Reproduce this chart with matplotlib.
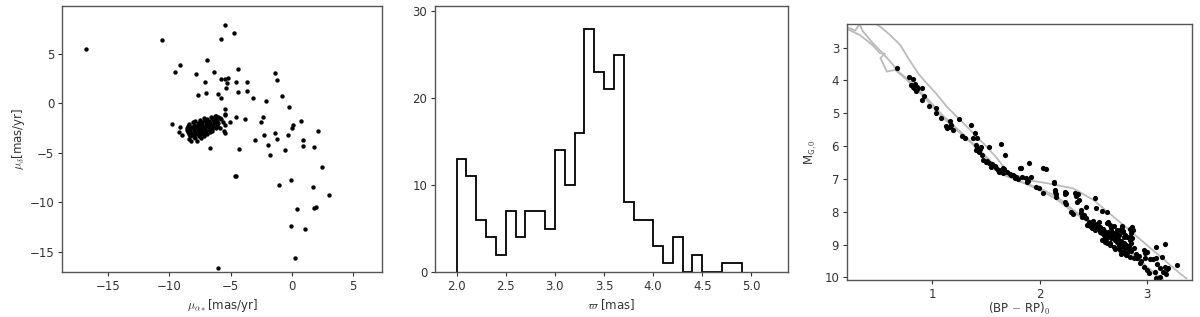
import matplotlib
matplotlib.use("Agg")
import matplotlib.pyplot as plt
import numpy as np

plt.rcParams['font.family'] = ['DejaVu Sans']
plt.rcParams['mathtext.fontset'] = 'cm'

# proper motions (mu_alpha*, mu_delta) in mas/yr
pm_outer = np.array([
    (-16.8, 5.5), (-10.6, 6.4), (-5.5, 7.95), (-4.75, 7.15), (-5.75, 6.55), (-6.95, 4.4),
    (-9.15, 3.85), (-9.5, 3.2), (-7.8, 2.95), (-6.35, 3.2), (-4.4, 3.45), (-7.1, 2.15),
    (-5.75, 2.45), (-5.5, 2.45), (-5.2, 2.6), (-5.3, 2.1), (-4.55, 2.15), (-3.65, 2.15),
    (-7.7, 0.85), (-7.0, 1.05), (-6.05, 0.95), (-5.35, 1.55), (-4.4, 1.15), (-3.65, 1.3),
    (-5.8, 0.5), (-3.2, 0.5), (-1.35, 3.05), (-1.2, 2.4), (-2.15, 0.25), (-0.8, 0.8),
    (-0.25, -0.4), (-5.45, -0.6), (-5.45, -1.2), (-4.6, -1.4), (-3.85, -1.6), (-5.05, -1.9),
    (-2.35, -1.4), (-2.5, -1.85), (0.7, -1.75), (0.1, -2.2), (0.0, -2.45), (2.1, -2.8),
    (-3.0, -3.7), (-2.3, -3.2), (-1.4, -2.95), (-1.2, -3.6), (-0.3, -3.15), (0.9, -3.75),
    (0.9, -4.3), (1.8, -4.4), (-1.95, -4.2), (-1.8, -5.25), (-0.6, -4.7), (-6.65, -4.5),
    (-4.3, -4.6), (-4.65, -7.35), (-4.55, -7.35), (2.45, -6.4), (-1.05, -8.3), (-0.05, -7.7),
    (1.7, -8.45), (3.05, -9.25), (0.4, -10.65), (1.8, -10.55), (2.0, -10.45), (-0.05, -12.35),
    (1.1, -12.75), (0.25, -15.65), (-6.0, -16.6),
    (-9.75, -2.1), (-9.1, -2.4), (-9.25, -2.85), (-9.0, -3.15), (-8.4, -3.55), (-8.2, -3.8),
    (-7.75, -3.8), (-5.5, -1.05), (-5.65, -1.85), (-5.45, -2.2), (-5.85, -2.5), (-5.55, -2.8),
    (-5.8, -1.6), (-6.2, -1.25), (-5.5, -2.95),
])

pm_cluster = np.array([
    (-6.3, -1.3), (-6.0, -1.35), (-6.6, -1.4),
    (-7.2, -1.5), (-6.9, -1.55), (-6.5, -1.5), (-6.2, -1.6), (-5.9, -1.5),
    (-7.9, -1.75), (-7.5, -1.7), (-7.1, -1.65), (-6.8, -1.75), (-6.4, -1.7), (-6.1, -1.8),
    (-8.1, -1.9), (-7.7, -1.95), (-7.3, -1.85), (-7.0, -1.9), (-6.7, -1.95), (-6.3, -1.9), (-6.0, -2.0),
    (-8.4, -2.1), (-8.0, -2.15), (-7.6, -2.05), (-7.3, -2.1), (-7.0, -2.15), (-6.7, -2.1), (-6.4, -2.05), (-6.1, -2.15),
    (-8.5, -2.3), (-8.2, -2.35), (-7.9, -2.25), (-7.6, -2.3), (-7.3, -2.35), (-7.0, -2.3), (-6.7, -2.25), (-6.4, -2.35), (-6.1, -2.3),
    (-8.6, -2.5), (-8.3, -2.55), (-8.0, -2.45), (-7.7, -2.5), (-7.4, -2.55), (-7.1, -2.5), (-6.8, -2.45), (-6.5, -2.55), (-6.2, -2.5),
    (-8.6, -2.7), (-8.3, -2.75), (-8.0, -2.65), (-7.7, -2.7), (-7.4, -2.75), (-7.1, -2.7), (-6.8, -2.65), (-6.5, -2.75),
    (-8.5, -2.9), (-8.2, -2.95), (-7.9, -2.85), (-7.6, -2.9), (-7.3, -2.95), (-7.0, -2.9), (-6.7, -2.85),
    (-8.4, -3.1), (-8.1, -3.15), (-7.8, -3.05), (-7.5, -3.1), (-7.2, -3.15), (-6.9, -3.1),
    (-8.3, -3.3), (-8.0, -3.35), (-7.6, -3.3), (-7.2, -3.3), (-7.9, -3.5), (-7.4, -3.5),
    (-7.85, -2.4), (-7.45, -2.6), (-7.15, -2.4), (-6.85, -2.0), (-7.55, -2.2), (-7.25, -2.8),
])

# parallax histogram (counts per 0.1 mas bin, 2.0 to 4.9 mas)
plx_edges = np.round(np.linspace(2.0, 4.9, 30), 2)
plx_counts = [13, 11, 6, 4, 2, 7, 4, 7, 7, 5, 14, 10, 16, 28, 23, 21, 25, 8, 6, 6,
              3, 1, 4, 0, 2, 0, 0, 1, 1]

# CMD stars: (BP-RP)_0, M_G,0
cmd = np.array([
    (0.67, 3.63), (0.78, 3.90), (0.82, 3.96), (0.80, 4.14), (0.82, 4.19), (0.83, 4.24), (0.85, 4.31),
    (0.84, 4.11), (0.86, 4.19), (0.90, 4.24), (0.86, 4.27), (0.92, 4.46), (0.90, 4.59), (0.97, 4.77),
    (1.03, 4.85), (1.03, 4.98), (1.08, 5.15), (1.13, 5.39), (1.14, 5.45), (1.17, 5.36), (1.19, 5.51),
    (1.16, 5.43), (1.165, 5.23), (1.25, 5.18), (1.28, 5.69), (1.30, 5.76), (1.36, 5.36), (1.40, 5.61),
    (1.38, 5.76), (1.42, 5.76), (1.41, 5.96), (1.42, 6.05), (1.41, 6.13), (1.44, 6.10), (1.43, 6.18),
    (1.45, 6.04), (1.53, 6.02), (1.64, 5.95), (1.68, 6.27),
    (1.47, 6.42), (1.50, 6.47), (1.53, 6.52), (1.56, 6.55), (1.58, 6.62), (1.59, 6.67), (1.61, 6.72),
    (1.625, 6.78), (1.66, 6.81), (1.67, 6.71), (1.70, 6.78), (1.72, 6.85), (1.75, 6.88), (1.78, 6.93),
    (1.80, 7.01), (1.83, 6.66), (1.84, 6.93), (1.87, 6.98), (1.90, 6.50), (1.89, 7.05), (1.92, 6.93),
    (1.97, 7.24), (2.03, 6.68), (2.06, 6.69),
    (1.46, 6.27), (1.51, 6.44), (1.55, 6.63), (1.62, 6.73), (1.66, 6.68), (1.73, 6.88), (1.77, 6.98),
    (1.82, 6.68), (1.88, 7.08), (1.99, 7.29), (2.13, 7.08), (2.14, 7.39), (2.24, 7.39), (2.25, 7.44),
    (2.24, 7.69), (2.03, 7.44),
    (2.13, 7.12), (2.145, 7.34), (2.15, 7.46), (2.15, 7.54), (2.24, 7.46), (2.25, 7.75), (2.33, 7.44),
    (2.34, 7.52), (2.36, 7.46), (2.37, 7.64), (2.35, 7.70), (2.29, 8.00), (2.31, 8.07), (2.39, 7.95),
    (2.39, 8.05), (2.40, 8.15), (2.41, 8.10), (2.43, 7.85), (2.52, 7.59), (2.53, 7.90), (2.58, 7.98),
    (2.63, 8.00), (2.43, 8.20), (2.44, 8.40), (2.47, 8.43), (2.49, 8.50), (2.50, 8.36), (2.53, 8.46),
    (2.55, 8.54), (2.56, 8.61), (2.58, 8.66), (2.60, 8.71), (2.61, 8.76), (2.63, 8.33), (2.66, 8.40),
    (2.64, 8.30), (2.67, 8.51), (2.69, 8.44), (2.72, 8.56), (2.75, 8.56), (2.77, 8.44), (2.78, 8.60),
    (2.80, 8.71), (2.82, 8.76), (2.84, 8.86), (2.85, 8.96), (2.77, 8.46), (2.78, 8.61), (2.86, 8.46),
    (2.87, 8.56), (2.84, 8.76), (2.86, 8.81),
    (2.58, 8.86), (2.61, 8.91), (2.63, 8.96), (2.66, 9.01), (2.69, 9.06), (2.74, 9.12), (2.75, 9.17),
    (2.78, 9.22), (2.80, 9.27), (2.81, 9.32), (2.84, 9.37), (2.88, 9.42), (2.97, 9.17), (2.985, 9.27),
    (3.00, 9.22), (2.91, 9.42), (2.94, 9.57), (2.97, 9.68), (3.00, 9.78), (3.02, 9.88), (3.08, 9.83),
    (3.09, 10.03), (3.09, 9.07), (3.17, 8.97), (3.09, 9.42), (3.14, 9.39), (3.17, 9.68), (3.19, 9.73),
    (3.28, 9.63), (3.12, 9.98), (3.03, 9.45), (3.06, 9.45),
    (2.46, 8.30), (2.48, 8.36), (2.51, 8.42), (2.52, 8.55), (2.54, 8.38), (2.56, 8.48), (2.57, 8.58),
    (2.59, 8.52), (2.60, 8.60), (2.62, 8.68), (2.64, 8.62), (2.65, 8.74), (2.67, 8.80), (2.68, 8.70),
    (2.70, 8.86), (2.71, 8.76), (2.72, 8.92), (2.73, 8.82), (2.74, 9.00), (2.76, 8.90), (2.77, 9.05),
    (2.79, 8.95), (2.80, 9.10), (2.81, 9.00), (2.83, 9.15), (2.82, 9.25), (2.85, 9.20), (2.76, 9.30),
    (2.70, 9.15), (2.66, 8.95), (2.62, 8.84), (2.68, 8.62), (2.71, 8.66), (2.74, 8.70), (2.79, 8.78),
    (2.83, 9.05), (2.85, 8.66), (2.84, 8.52), (2.50, 8.28), (2.55, 8.30),
    (2.88, 9.10), (2.90, 9.30), (2.93, 9.35), (2.95, 9.50), (2.98, 9.40), (3.10, 9.60), (3.12, 9.70),
    (3.15, 9.85), (3.20, 9.70), (3.18, 9.90),
])

# isochrones (colour, magnitude)
iso_a_x = [0.474, 0.512, 0.60, 0.70, 0.78, 0.87, 0.95, 1.03, 1.134, 1.258, 1.383, 1.507, 1.616,
           1.694, 1.818, 1.88, 2.067, 2.315, 2.502, 2.689, 2.875, 3.093, 3.31, 3.37]
iso_a_y = [2.28, 2.36, 2.60, 2.92, 3.35, 3.80, 4.10, 4.38, 4.80, 5.20, 5.61, 6.02, 6.42,
           6.78, 6.93, 7.03, 7.13, 7.29, 7.64, 8.15, 8.66, 9.27, 9.88, 10.03]
iso_b_x = [0.19, 0.32, 0.44, 0.51, 0.555, 0.515, 0.574, 0.652, 0.76, 0.916, 1.072, 1.227, 1.383,
           1.538, 1.663, 1.818, 2.005, 2.16, 2.315, 2.502, 2.689, 2.875, 3.062, 3.124]
iso_b_y = [2.41, 2.61, 2.92, 3.17, 3.18, 3.32, 3.73, 3.68, 3.98, 4.49, 5.05, 5.51, 5.97,
           6.47, 6.88, 7.08, 7.29, 7.54, 7.95, 8.35, 8.81, 9.27, 9.88, 10.03]
iso_c_x = [0.19, 0.28, 0.32, 0.35, 0.44, 0.52, 0.60, 0.68, 0.80, 0.95, 1.10, 1.25, 1.40, 1.55,
           1.70, 1.85, 2.00, 2.15, 2.30, 2.50, 2.70, 2.90, 3.08, 3.15]
iso_c_y = [2.36, 2.48, 2.28, 2.50, 2.85, 3.12, 3.40, 3.72, 4.05, 4.55, 5.08, 5.53, 5.98, 6.48,
           6.90, 7.12, 7.34, 7.60, 7.98, 8.42, 8.90, 9.38, 9.90, 10.05]

fig = plt.figure(figsize=(12, 3.17), dpi=100)
ax1 = fig.add_axes([0.0517, 0.142, 0.2667, 0.839])
ax2 = fig.add_axes([0.3625, 0.142, 0.294, 0.839])
ax3 = fig.add_axes([0.7056, 0.1167, 0.2875, 0.8076])

for ax in (ax1, ax2, ax3):
    for sp in ax.spines.values():
        sp.set_color('#555555')
        sp.set_linewidth(1.0)
    ax.tick_params(direction='out', length=3, width=0.8, pad=2.5,
                   colors='#333333', labelsize=8.5)

# panel 1: proper motions
pm_all = np.vstack([pm_outer, pm_cluster])
ax1.scatter(pm_all[:, 0], pm_all[:, 1], s=10, color='black', linewidths=0)
ax1.set_xlim(-18.75, 7.35)
ax1.set_ylim(-17.05, 9.85)
ax1.set_xticks([-15, -10, -5, 0, 5])
ax1.set_yticks([-15, -10, -5, 0, 5])
ax1.set_xlabel(r'$\mu_{\alpha *}$[mas/yr]', fontsize=8.5, color='#333333', labelpad=3)
ax1.set_ylabel(r'$\mu_{\delta}$[mas/yr]', fontsize=8.5, color='#333333', labelpad=2)

# panel 2: parallax histogram
ax2.stairs(plx_counts, plx_edges, color='black', linewidth=1.3, baseline=0)
ax2.set_xlim(1.78, 5.37)
ax2.set_ylim(0, 30.6)
ax2.set_xticks([2.0, 2.5, 3.0, 3.5, 4.0, 4.5, 5.0])
ax2.set_yticks([0, 10, 20, 30])
ax2.set_xlabel(r'$\varpi$ [mas]', fontsize=8.5, color='#333333', labelpad=3)

# panel 3: CMD
for ix, iy in ((iso_a_x, iso_a_y), (iso_b_x, iso_b_y), (iso_c_x, iso_c_y)):
    ax3.plot(ix, iy, color='#bbbbbb', linewidth=1.3, zorder=1)
ax3.scatter(cmd[:, 0], cmd[:, 1], s=14, color='black', linewidths=0, zorder=2)
ax3.set_xlim(0.2, 3.42)
ax3.set_ylim(10.08, 2.28)
ax3.set_xticks([1, 2, 3])
ax3.set_yticks([3, 4, 5, 6, 7, 8, 9, 10])
ax3.set_xlabel(r'(BP $-$ RP)$_\mathsf{0}$', fontsize=8.5, color='#333333', labelpad=0)
ax3.set_ylabel(r'M$_\mathsf{G,0}$', fontsize=8.5, color='#333333', labelpad=4)

fig.savefig('out.png', dpi=100)
